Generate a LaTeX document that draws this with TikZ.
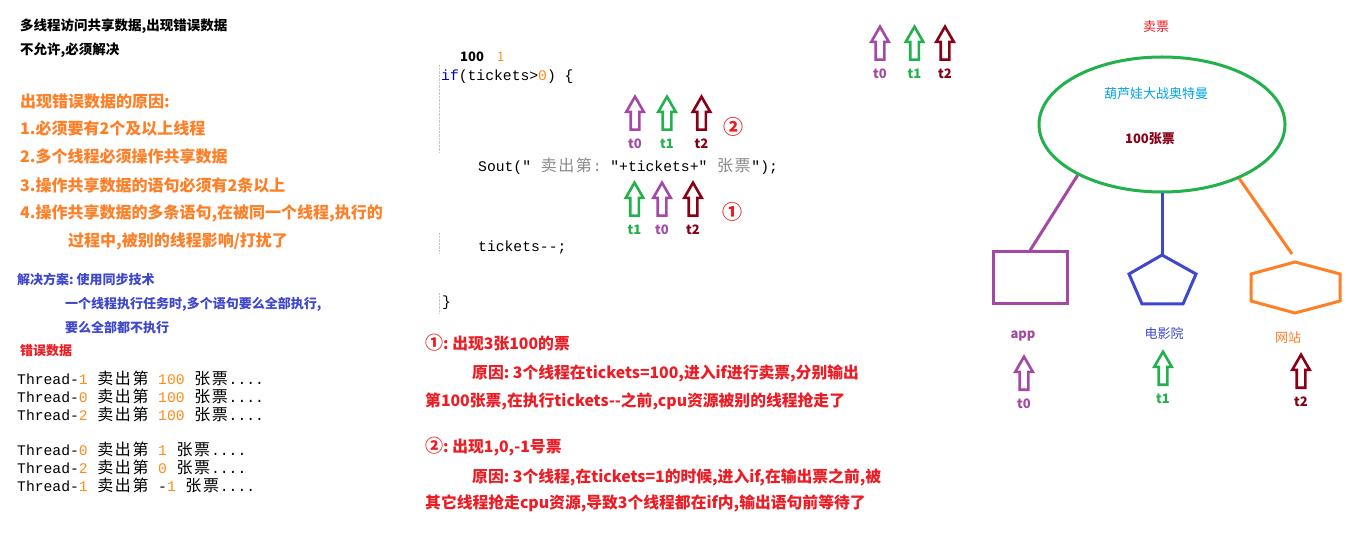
\documentclass[tikz,border=0pt]{standalone}
\usepackage{fontspec}
\newfontfamily\cjk{Noto Sans CJK SC}
\newfontfamily\mono{Liberation Mono}
\usetikzlibrary{calc,shapes.geometric,shapes.arrows}
\frenchspacing
\newcommand\fs[1]{\fontsize{#1}{#1}\selectfont}
% every CJK glyph in the code lines takes two mono columns
\newcommand\wide[1]{{\fs{16}\widechar#1\relax}}
\def\widechar#1{\ifx\relax#1\else\makebox[17.6pt]{#1}\expandafter\widechar\fi}
\definecolor{tpurple}{HTML}{A349A4}
\definecolor{tgreen}{HTML}{22B14C}
\definecolor{tdarkred}{HTML}{880015}
\definecolor{tred}{HTML}{ED1C24}
\definecolor{tblue}{HTML}{3F48CC}
\definecolor{torange}{HTML}{FF7F27}
\definecolor{tsky}{HTML}{00A2E8}
\definecolor{codeorange}{HTML}{FF8C1A}
\definecolor{codeblue}{HTML}{0000C0}
\definecolor{codegray}{HTML}{8A8A8A}
\tikzset{
  txt/.style={anchor=west,inner sep=0pt},
  code/.style={txt,font=\mono\fs{14.7}},
  redtxt/.style={txt,text=tred,font=\cjk\bfseries\fs{15.8}},
  tarrow/.style={single arrow,draw=#1,line width=2.6pt,rotate=90,anchor=tail,
    minimum height=33pt,minimum width=0pt,single arrow head extend=4.5pt,
    single arrow tip angle=60,inner xsep=0pt,inner ysep=3pt},
  tlabel/.style={text=#1,font=\cjk\bfseries\fs{13},inner sep=0pt},
  frame/.style={draw=#1,line width=3pt},
  guide/.style={draw=gray!45,densely dotted,thin}
}

\begin{document}
\begin{tikzpicture}[x=1pt,y=-1pt]
\fill[white] (0,0) rectangle (1360,537);
\useasboundingbox (0,0) rectangle (1360,537);

% left column
\node[txt,font=\cjk\bfseries\fs{13.5}] (title) at (20,26) {多线程访问共享数据,出现错误数据};
\node[txt,font=\cjk\bfseries\fs{13.5}] (must) at (20,50) {不允许,必须解决};
\node[txt,text=torange,font=\cjk\bfseries\fs{16}] (cause) at (20,101) {出现错误数据的原因:};
\node[txt,text=torange,font=\cjk\bfseries\fs{16}] (cause1) at (20,128) {1.必须要有2个及以上线程};
\node[txt,text=torange,font=\cjk\bfseries\fs{16}] (cause2) at (20,156) {2.多个线程必须操作共享数据};
\node[txt,text=torange,font=\cjk\bfseries\fs{16}] (cause3) at (20,185) {3.操作共享数据的语句必须有2条以上};
\node[txt,text=torange,font=\cjk\bfseries\fs{16}] (cause4) at (20,213) {4.操作共享数据的多条语句,在被同一个线程,执行的};
\node[txt,text=torange,font=\cjk\bfseries\fs{16}] (cause4b) at (68,241) {过程中,被别的线程影响/打扰了};
\node[txt,text=tblue,font=\cjk\bfseries\fs{13}] (fix) at (17,279) {解决方案: 使用同步技术};
\node[txt,text=tblue,font=\cjk\bfseries\fs{13}] (fix1) at (65,304) {一个线程执行任务时,多个语句要么全部执行,};
\node[txt,text=tblue,font=\cjk\bfseries\fs{13}] (fix2) at (65,328) {要么全部都不执行};
\node[txt,text=tred,font=\cjk\bfseries\fs{13}] (wrong) at (20,351) {错误数据};
\foreach \yy/\th/\num in {378/1/100,396/0/100,414/2/100,449/0/1,467/2/0,485/1/{\textcolor{black}{-}1}}
  \node[code] (out\yy) at (17,\yy) {Thread-\textcolor{codeorange}{\th}\ {\cjk\wide{卖出第}}\ \textcolor{codeorange}{\num}\ {\cjk\wide{张票}}....};

% code in the middle
\node[txt,font=\cjk\bfseries\fs{13}] (v100) at (460,57) {100};
\node[txt,text=codeorange,font=\cjk\fs{13}] (v1) at (497,57) {1};
\node[code] (ifline) at (441,77) {\textcolor{codeblue}{if}(tickets>\textcolor{codeorange}{0})\ \{};
\node[code] (sout) at (478,166) {Sout("\textcolor{codegray}{\ {\cjk\wide{卖出第}}:\ }"+tickets+"\textcolor{codegray}{\ {\cjk\wide{张票}}}");};
\node[code] (dec) at (478,247) {tickets-{}-;};
\node[code] (close) at (442,303) {\}};
\draw[guide] (439,65) -- (439,153);
\draw[guide] (439,233) -- (439,253);
\draw[guide] (439,293) -- (439,313);

\foreach \id/\xx/\col/\lab in {a/635/tpurple/t0,b/667/tgreen/t1,c/701.5/tdarkred/t2}{
  \node[tarrow=\col] (hi\id) at (\xx,131) {};
  \node[tlabel=\col] (hl\id) at ($(hi\id.tail)+(0,13)$) {\lab};
}
\foreach \id/\xx/\col/\lab in {a/634.5/tgreen/t1,b/662/tpurple/t0,c/693/tdarkred/t2}{
  \node[tarrow=\col] (lo\id) at (\xx,217) {};
  \node[tlabel=\col] (ll\id) at ($(lo\id.tail)+(0,13)$) {\lab};
}
\node[text=tred,font=\cjk\bfseries\fs{20},inner sep=0pt] (two) at (733,127) {②};
\node[text=tred,font=\cjk\bfseries\fs{20},inner sep=0pt] (one) at (732,212) {①};

% explanations
\node[redtxt] (why1) at (425,343) {{\fs{18}①}: 出现3张100的票};
\node[redtxt] (why1a) at (472,373) {原因: 3个线程在tickets=100,进入if进行卖票,分别输出};
\node[redtxt] (why1b) at (425,401) {第100张票,在执行tickets-{}-之前,cpu资源被别的线程抢走了};
\node[redtxt] (why2) at (425,447) {{\fs{18}②}: 出现1,0,-1号票};
\node[redtxt] (why2a) at (472,477) {原因: 3个线程,在tickets=1的时候,进入if,在输出票之前,被};
\node[redtxt] (why2b) at (425,503) {其它线程抢走cpu资源,导致3个线程都在if内,输出语句前等待了};

% three threads on top
\foreach \id/\xx/\col/\lab in {a/880/tpurple/t0,b/914.5/tgreen/t1,c/945/tdarkred/t2}{
  \node[tarrow=\col] (tp\id) at (\xx,61) {};
  \node[tlabel=\col] (tl\id) at ($(tp\id.tail)+(0,13)$) {\lab};
}

% ticket selling
\node[text=tred,font=\cjk\fs{13},inner sep=0pt] (sell) at (1156,27) {卖票};
\node[ellipse,frame=tgreen,minimum width=246pt,minimum height=135pt] (tk) at (1162,124.5) {};
\node[text=tsky,font=\cjk\fs{13},inner sep=0pt] (film) at (1156,94) {葫芦娃大战奥特曼};
\node[text=tdarkred,font=\cjk\bfseries\fs{13},inner sep=0pt] (count) at (1150,139) {100张票};
\node[frame=tpurple,minimum width=74pt,minimum height=52pt,inner sep=0pt] (appbox) at (1030,278) {};
\coordinate (cinema) at (1162,255);
\draw[frame=tblue] (cinema) -- (1196,274) -- (1183,304) -- (1142,304) -- (1129,274) -- cycle;
\coordinate (webtop) at (1292,254);
\draw[frame=torange] (1295,262) -- (1340,274) -- (1340,301) -- (1295,313) -- (1251,301) -- (1251,274) -- cycle;
\draw[frame=tpurple] (tk.211) -- (appbox.north);
\draw[frame=tblue] (tk.south) -- (cinema);
\draw[frame=torange] (tk.-35) -- (webtop);
\node[text=tpurple,font=\cjk\bfseries\fs{13},inner sep=0pt] (app) at (1023,336) {app};
\node[text=tblue,font=\cjk\fs{13},inner sep=0pt] (cine) at (1164,334) {电影院};
\node[text=torange,font=\cjk\fs{13},inner sep=0pt] (web) at (1288,338) {网站};
\foreach \id/\xx/\col/\lab/\yy in {a/1024/tpurple/t0/391,b/1163/tgreen/t1/386,c/1301/tdarkred/t2/389}{
  \node[tarrow=\col] (rt\id) at (\xx,\yy) {};
  \node[tlabel=\col] (rl\id) at ($(rt\id.tail)+(0,13)$) {\lab};
}
\end{tikzpicture}
\end{document}
